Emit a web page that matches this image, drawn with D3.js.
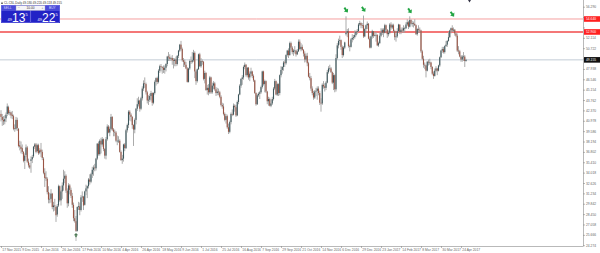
<!DOCTYPE html>
<meta charset="utf-8">
<style>
body { margin: 0; background: #fff; }
svg { display: block; font-family: "Liberation Sans", Arial, sans-serif; }
.axis text { fill: #666; font-size: 3.3px; }
.axis path, .axis line { stroke: #8a8a8a; stroke-width: 0.6px; }
</style>
<body>
<script src="https://cdn.jsdelivr.net/npm/d3@7/dist/d3.min.js"></script>
<script>
var width = 600, height = 253;
var plotRight = 583, plotBottom = 246;

var symbolTitle = "CL.CSL,Daily  49.180 49.220 49.118 49.155";
var sellQuote = ["49", "13", "5"], buyQuote = ["49", "22", "5"], lotSize = "10.00";

var dateLabels = ["17 Nov 2015", "9 Dec 2015", "4 Jan 2016", "26 Jan 2016", "17 Feb 2016",
  "10 Mar 2016", "4 Apr 2016", "26 Apr 2016", "18 May 2016", "9 Jun 2016", "1 Jul 2016",
  "25 Jul 2016", "16 Aug 2016", "7 Sep 2016", "29 Sep 2016", "21 Oct 2016", "14 Nov 2016",
  "6 Dec 2016", "29 Dec 2016", "23 Jan 2017", "14 Feb 2017", "8 Mar 2017", "30 Mar 2017",
  "24 Apr 2017"];

var priceTicks = [56.290, 54.898, 53.506, 52.114, 50.722, 49.330, 47.938, 46.546, 45.154,
  43.762, 42.370, 40.978, 39.586, 38.194, 36.802, 35.410, 34.018, 32.626, 31.234, 29.842,
  28.450, 27.058, 25.666, 24.274];

var levels = [54.64, 52.90];
var lastPrice = 49.155;
// [bar, price] of the arrow objects
var topMarkers = [[276, 55.85], [290, 55.95], [327, 55.75], [361, 55.3]];
var lowMarker = [60, 25.6];

// daily candles [open, high, low, close], 16 bars per line
var candles = [
[41.9,42.4,40.9,41.5],[41.5,41.9,40.3,41.1],[41.1,41.6,40.4,40.9],[40.9,41.7,40.5,41.2],[41.3,42.1,40.8,41.8],[41.9,43.3,41.6,42.9],[42.8,43.0,41.8,42.0],[42.0,42.4,41.7,42.1],[42.1,42.2,41.3,41.7],[41.8,42.3,41.2,41.6],[41.6,41.8,39.7,39.9],[40.0,40.5,39.5,39.9],[39.9,41.5,39.7,41.1],[41.1,41.4,39.6,40.0],[39.9,40.0,37.4,37.6],[37.7,38.3,37.0,37.5],
[37.5,38.2,36.6,37.2],[37.3,37.8,36.5,36.8],[36.8,36.9,35.4,35.6],[35.6,36.6,34.5,36.3],[36.4,37.8,36.1,37.4],[37.4,37.6,35.3,35.5],[35.5,35.9,34.7,35.0],[35.0,35.3,34.5,34.7],[35.6,36.2,34.0,35.8],[35.8,36.4,35.3,36.1],[36.2,37.6,36.0,37.5],[37.5,38.0,37.2,37.8],[37.8,38.0,36.6,36.8],[36.9,37.9,36.7,37.7],[37.7,37.9,36.4,36.6],[36.7,37.3,36.5,37.0],
[37.1,38.0,36.1,36.8],[36.8,37.1,35.7,36.0],[35.9,36.1,33.8,34.0],[34.0,34.6,32.1,33.3],[33.4,34.2,32.9,33.2],[33.2,33.4,31.1,31.4],[31.4,32.2,29.9,30.4],[30.5,31.3,29.9,30.5],[30.5,31.8,30.0,31.2],[31.2,31.3,29.1,29.4],[29.4,30.1,28.8,29.6],[29.6,30.5,28.9,29.5],[29.4,29.6,27.4,28.3],[28.4,29.8,28.1,29.5],[29.6,32.4,29.4,32.2],[32.2,32.3,30.1,30.3],
[30.3,31.7,29.6,31.5],[31.5,32.7,30.5,32.3],[32.3,34.4,31.6,33.2],[33.2,34.2,32.6,33.6],[33.6,33.8,31.3,31.6],[31.6,31.9,29.3,29.9],[29.9,32.6,29.5,32.3],[32.3,32.5,31.1,31.7],[31.7,32.0,30.6,30.9],[30.9,31.3,29.3,29.7],[29.7,30.0,27.5,27.9],[27.9,29.0,27.3,27.5],[27.5,28.2,26.05,26.2],[26.2,29.5,26.1,29.4],[29.4,30.1,29.0,29.5],[29.5,30.0,28.3,29.0],
[29.0,31.0,28.8,30.7],[30.7,31.5,30.1,30.8],[30.8,30.9,29.0,29.6],[29.7,31.6,29.6,31.5],[31.5,32.4,31.0,31.9],[31.9,32.3,30.6,32.2],[32.2,33.3,31.9,33.1],[33.1,33.8,32.4,32.8],[32.8,34.0,32.6,33.8],[33.8,34.8,33.3,34.4],[34.4,35.0,33.6,34.7],[34.7,35.2,34.2,34.6],[34.6,36.0,34.3,35.9],[35.9,38.0,35.7,37.9],[37.9,38.2,36.3,36.5],[36.5,38.5,36.3,38.3],
[38.3,38.7,36.6,37.8],[37.8,38.8,37.5,38.5],[38.5,38.6,36.9,37.2],[37.2,37.3,35.9,36.3],[36.3,38.8,35.8,38.5],[38.5,40.5,38.3,40.2],[40.2,40.4,39.3,39.4],[39.4,40.2,38.9,39.9],[39.9,41.9,39.7,41.5],[41.5,41.6,39.6,39.8],[39.8,40.0,38.9,39.5],[39.5,39.8,38.9,39.4],[39.4,39.6,38.1,38.3],[38.3,39.0,37.7,38.3],[38.3,38.9,38.0,38.3],[38.3,38.5,36.7,36.8],
[36.8,37.0,35.6,35.7],[35.7,36.4,35.2,35.9],[35.9,37.9,35.5,37.8],[37.8,38.0,36.9,37.3],[37.3,39.9,37.2,39.7],[39.7,40.6,39.4,40.4],[40.4,42.4,40.0,42.2],[42.2,42.4,41.0,41.8],[41.8,42.0,40.9,41.5],[41.5,41.6,39.9,40.4],[40.4,40.5,37.6,39.8],[39.8,41.3,39.3,41.1],[41.1,42.7,40.5,42.6],[42.6,44.0,42.3,43.2],[43.2,44.2,42.9,43.7],[43.7,43.8,42.2,42.6],
[42.6,44.2,42.4,44.0],[44.0,45.6,43.7,45.3],[45.3,46.4,45.0,46.0],[46.0,46.8,45.4,45.9],[45.9,46.1,44.5,44.8],[44.8,45.0,43.3,43.7],[43.7,44.4,43.1,43.8],[43.8,44.6,43.5,44.3],[44.3,45.0,43.7,44.7],[44.7,44.8,43.0,43.4],[43.4,44.8,43.2,44.7],[44.7,46.4,44.5,46.2],[46.2,46.8,45.7,46.7],[46.7,46.9,45.9,46.2],[46.2,47.9,46.0,47.7],[47.7,48.5,47.4,48.3],
[48.3,48.6,47.6,48.2],[48.2,48.3,47.3,48.1],[48.1,48.4,47.4,47.8],[47.8,48.4,47.3,48.1],[48.1,48.7,47.6,48.6],[48.6,49.7,48.3,49.6],[49.6,50.2,49.0,49.5],[49.5,49.9,49.0,49.3],[49.3,49.6,49.0,49.4],[49.4,49.8,48.5,49.1],[49.1,49.4,48.0,49.0],[49.0,49.4,48.3,49.2],[49.2,49.6,48.3,48.6],[48.6,49.8,48.4,49.7],[49.7,50.5,49.4,50.4],[50.4,51.3,50.2,51.2],
[51.2,51.7,50.4,50.6],[50.6,50.8,48.9,49.1],[49.1,49.4,48.2,48.9],[48.9,49.2,48.2,48.5],[48.5,48.9,47.9,48.0],[48.0,48.2,46.1,46.2],[46.2,48.1,46.1,48.0],[48.0,49.2,47.8,49.0],[49.0,49.6,48.6,48.9],[48.9,50.2,48.7,49.1],[49.1,50.5,48.9,50.1],[50.1,50.3,46.7,47.6],[47.6,47.8,45.8,46.3],[46.3,48.0,46.1,47.9],[47.9,50.0,47.8,49.9],[49.9,50.1,48.2,48.3],
[48.3,49.4,48.1,49.0],[49.0,49.2,48.5,48.9],[48.9,49.0,46.4,46.6],[46.6,47.7,46.0,47.4],[47.4,47.5,45.0,45.1],[45.1,45.8,44.5,45.4],[45.4,45.9,44.4,44.8],[44.8,47.0,44.6,46.8],[46.8,46.9,44.6,44.8],[44.8,46.1,44.6,45.7],[45.7,46.3,45.2,46.0],[46.0,46.2,45.0,45.2],[45.2,45.5,44.3,44.7],[44.7,45.4,44.4,44.9],[44.9,45.3,44.4,44.8],[44.8,45.0,44.0,44.2],
[44.2,44.4,42.9,43.1],[43.1,43.4,42.6,42.9],[42.9,43.3,41.7,41.9],[41.9,42.1,40.9,41.1],[41.1,41.9,40.6,41.6],[41.6,41.8,39.9,40.1],[40.1,40.6,39.2,39.5],[39.5,41.0,39.3,40.8],[40.8,42.1,40.5,41.9],[41.9,42.5,41.6,41.8],[41.8,43.3,41.7,43.0],[43.0,43.2,42.2,42.8],[42.8,43.1,41.5,41.7],[41.7,43.7,41.6,43.5],[43.5,44.6,43.2,44.5],[44.5,45.9,44.4,45.7],
[45.7,46.7,45.4,46.6],[46.6,47.1,45.8,46.8],[46.8,48.4,46.5,48.2],[48.2,48.8,47.9,48.5],[48.5,48.6,46.9,47.1],[47.1,48.2,46.8,48.1],[48.1,48.2,46.5,46.8],[46.8,47.6,46.3,47.3],[47.3,48.1,46.9,47.6],[47.6,47.7,46.7,47.0],[47.0,47.2,46.2,46.4],[46.4,46.5,44.6,44.7],[44.7,44.8,43.0,43.2],[43.2,44.6,43.1,44.4],[44.4,44.8,44.2,44.6],[44.6,45.0,43.9,44.8],
[44.8,45.7,44.6,45.5],[45.5,47.7,45.3,47.6],[47.6,47.7,45.7,45.9],[45.9,46.5,44.8,46.3],[46.3,46.4,44.7,44.9],[44.9,45.0,43.2,43.6],[43.6,44.2,43.0,43.9],[43.9,44.1,42.9,43.0],[43.0,43.8,42.8,43.3],[43.3,44.2,43.1,43.9],[43.9,45.5,43.7,45.3],[45.3,46.6,45.1,46.3],[46.3,46.4,44.4,44.5],[44.5,46.1,44.3,45.9],[45.9,46.0,44.3,44.7],[44.7,47.2,44.4,47.1],
[47.1,48.3,46.8,47.8],[47.8,48.3,47.3,48.2],[48.2,49.0,47.7,48.8],[48.8,49.1,48.2,48.7],[48.7,49.9,48.5,49.8],[49.8,50.5,49.6,50.4],[50.4,50.7,49.4,49.8],[49.8,51.6,49.7,51.4],[51.4,51.6,50.5,50.8],[50.8,51.0,49.9,50.2],[50.2,50.6,49.7,50.4],[50.4,51.0,50.0,50.4],[50.4,50.5,49.6,49.9],[49.9,50.6,49.8,50.3],[50.3,51.9,50.2,51.6],[51.6,51.9,50.5,50.6],
[50.6,51.4,50.3,50.9],[50.9,51.2,50.4,50.5],[50.5,50.6,49.6,50.0],[50.0,50.3,48.8,49.2],[49.2,50.0,48.9,49.7],[49.7,50.1,48.3,48.7],[48.7,48.9,46.8,46.9],[46.9,47.4,46.4,46.7],[46.7,47.0,45.0,45.3],[45.3,45.6,44.4,44.7],[44.7,45.0,43.8,44.1],[44.1,45.1,43.9,44.9],[44.9,45.4,44.3,45.0],[45.0,45.6,43.8,45.3],[45.3,45.6,44.4,44.7],[44.7,45.0,43.1,43.4],
[43.4,44.0,42.2,43.3],[43.3,46.0,43.1,45.8],[45.8,46.3,45.3,45.6],[45.6,46.0,44.9,45.4],[45.4,46.3,45.1,46.1],[46.1,47.8,46.0,47.5],[47.5,48.3,47.3,48.0],[48.0,48.5,47.7,48.0],[48.0,48.2,47.4,47.5],[47.5,47.6,45.9,46.1],[46.1,47.4,45.1,47.1],[47.1,47.2,44.8,45.2],[45.2,49.9,44.9,49.4],[49.4,51.4,49.2,51.1],[51.1,52.0,50.7,51.7],[51.7,52.4,51.2,51.8],
[51.8,51.9,50.5,50.9],[50.9,51.1,49.4,49.8],[49.8,51.0,49.6,50.8],[50.8,51.6,50.6,51.5],[52.6,55.0,52.4,52.8],[52.8,53.3,52.2,53.0],[53.0,53.4,50.8,51.0],[51.0,51.2,50.3,50.9],[50.9,52.1,50.8,51.9],[51.9,52.6,51.5,52.1],[52.1,52.5,51.8,52.2],[52.2,53.1,52.0,52.5],[52.5,53.1,52.3,52.9],[52.9,53.3,52.6,53.0],[53.0,54.1,52.9,53.9],[53.9,54.4,53.7,54.1],
[54.1,54.2,53.4,53.8],[53.8,54.1,53.4,53.7],[53.8,55.1,52.1,52.3],[52.3,53.4,52.2,53.3],[53.3,53.9,52.8,53.8],[53.8,54.3,53.3,54.0],[54.0,54.1,51.9,52.0],[52.0,52.3,50.7,50.8],[50.8,52.4,50.7,52.3],[52.3,53.2,52.0,53.0],[53.0,53.0,52.1,52.4],[52.4,52.9,52.3,52.5],[52.5,52.9,51.6,52.5],[52.5,52.6,51.0,51.1],[51.1,51.6,50.9,51.4],[51.4,52.8,51.3,52.4],
[52.4,53.4,52.2,52.8],[52.8,53.4,52.5,53.2],[53.2,53.4,52.2,52.8],[52.8,54.0,52.7,53.8],[53.8,53.9,52.9,53.2],[53.2,53.3,52.1,52.6],[52.6,53.1,52.3,52.8],[52.8,54.1,52.6,53.9],[53.9,54.2,53.2,53.5],[53.5,54.0,53.3,53.8],[53.8,54.0,52.8,53.0],[53.0,53.2,51.8,52.2],[52.2,52.7,51.6,52.3],[52.3,53.4,52.1,53.0],[53.0,54.0,52.9,53.9],[53.9,53.9,52.6,52.9],
[52.9,53.5,52.6,53.2],[53.2,53.5,52.8,53.1],[53.1,53.8,52.8,53.4],[53.4,53.6,52.8,53.4],[53.4,54.2,53.3,53.9],[53.9,54.6,53.7,54.2],[54.2,54.4,53.3,53.6],[53.6,55.0,53.5,54.5],[54.5,54.6,53.8,54.0],[54.0,54.4,53.6,54.1],[54.1,54.3,53.5,54.0],[54.0,54.6,53.7,53.8],[53.8,53.9,52.5,52.6],[52.6,53.4,52.4,53.3],[53.3,53.8,52.8,53.2],[53.2,53.5,52.8,53.1],
[53.1,53.2,50.1,50.3],[50.3,50.5,49.1,49.3],[49.3,49.7,48.1,48.5],[48.5,48.8,47.9,48.4],[48.4,48.5,46.8,47.7],[47.7,49.0,47.6,48.9],[48.9,49.2,48.4,48.8],[48.8,49.3,48.5,48.8],[48.8,48.9,47.9,48.2],[48.2,48.3,47.1,47.3],[47.3,47.6,46.6,47.0],[47.0,48.0,46.9,47.7],[47.7,48.3,47.5,48.0],[48.0,48.1,47.1,47.7],[47.7,48.5,47.6,48.4],[48.4,49.6,48.2,49.5],
[49.5,50.5,49.4,50.4],[50.4,50.9,50.1,50.6],[50.6,50.9,50.0,50.2],[50.2,51.1,50.0,51.0],[51.0,51.7,50.9,51.2],[51.2,51.8,50.9,51.7],[51.7,52.9,51.6,52.2],[52.2,53.2,52.1,53.1],[53.1,53.5,52.7,53.4],[53.4,53.8,52.9,53.1],[53.1,53.5,52.9,53.2],[53.2,53.3,52.4,52.7],[52.7,52.8,52.2,52.4],[52.4,52.7,50.2,50.4],[50.4,51.0,49.9,50.3],[50.3,50.5,49.5,49.6],
[49.6,49.8,48.9,49.2],[49.2,49.8,48.9,49.6],[49.6,50.2,49.0,49.6],[49.6,49.8,48.2,49.0],[49.0,49.3,48.9,49.155]
];

var svg = d3.select("body").append("svg")
    .attr("width", width)
    .attr("height", height);

var x = d3.scaleLinear().domain([0, 465.6]).range([1, plotRight]);
var y = d3.scaleLinear().domain([24.17, 57.19]).range([plotBottom, 0]);

// horizontal lines
svg.append("line")
    .attr("x1", 0).attr("x2", plotRight)
    .attr("y1", y(lastPrice)).attr("y2", y(lastPrice))
    .attr("stroke", "#c3ccd6").attr("stroke-width", 1);

svg.append("line")
    .attr("x1", 0).attr("x2", plotRight)
    .attr("y1", y(levels[0])).attr("y2", y(levels[0]))
    .attr("stroke", "#f5a0a0").attr("stroke-width", 1);
svg.append("line")
    .attr("x1", 0).attr("x2", plotRight)
    .attr("y1", y(levels[1])).attr("y2", y(levels[1]))
    .attr("stroke", "#f04a4a").attr("stroke-width", 1.5);

// candles
var bars = svg.append("g").selectAll("g")
    .data(candles)
    .enter().append("g");

bars.append("line")
    .attr("x1", function(d, i) { return x(i); })
    .attr("x2", function(d, i) { return x(i); })
    .attr("y1", function(d) { return y(d[1]); })
    .attr("y2", function(d) { return y(d[2]); })
    .attr("stroke", "#a2a2a2")
    .attr("stroke-width", 0.9);

bars.append("rect")
    .attr("x", function(d, i) { return x(i) - 0.55; })
    .attr("width", 1.1)
    .attr("y", function(d) { return y(Math.max(d[0], d[3])); })
    .attr("height", function(d) { return Math.max(0.6, Math.abs(y(d[0]) - y(d[3]))); })
    .attr("fill", function(d) { return d[3] >= d[0] ? "#3c575c" : "#9a5444"; });

// arrow objects
function arrow(g, cx, cy) {
  g.append("path")
    .attr("transform", "translate(" + cx + "," + cy + ") rotate(-35)")
    .attr("d", "M0,3.2 L-2.6,0 L-1,0 L-1,-2.8 L1,-2.8 L1,0 L2.6,0 Z")
    .attr("fill", "#23a544");
}
topMarkers.forEach(function(m) { arrow(svg, x(m[0]), y(m[1])); });
svg.append("path")
    .attr("transform", "translate(" + x(lowMarker[0]) + "," + y(lowMarker[1]) + ")")
    .attr("d", "M0,-2.4 L2.2,0 L0.8,0 L0.8,2 L-0.8,2 L-0.8,0 L-2.2,0 Z")
    .attr("fill", "#4d7a55");
svg.append("line")
    .attr("x1", x(lowMarker[0])).attr("x2", x(lowMarker[0]))
    .attr("y1", y(lowMarker[1]) + 2).attr("y2", plotBottom - 5)
    .attr("stroke", "#777").attr("stroke-width", 0.5);
svg.append("path")
    .attr("d", "M468,0 L471,0 L469.5,2.5 Z")
    .attr("fill", "#334");

// axes
var yAxis = d3.axisRight(y)
    .tickValues(priceTicks)
    .tickSize(2)
    .tickSizeOuter(0)
    .tickPadding(1)
    .tickFormat(d3.format(".3f"));
var yg = svg.append("g").attr("class", "axis")
    .attr("transform", "translate(" + plotRight + ",0)")
    .call(yAxis);
yg.select(".domain").attr("d", "M0.5,0V" + plotBottom);
var boxes = levels.concat([lastPrice]);
yg.selectAll(".tick text").style("display", function(d) {
  return boxes.some(function(b) { return Math.abs(y(b) - y(d)) < 5; }) ? "none" : null;
});

var xAxis = d3.axisBottom(x)
    .tickValues(dateLabels.map(function(d, i) { return i * 16; }))
    .tickSize(2)
    .tickSizeOuter(0)
    .tickFormat(function(d, i) { return dateLabels[i]; });
var xg = svg.append("g").attr("class", "axis")
    .attr("transform", "translate(0," + plotBottom + ")")
    .call(xAxis);
xg.select(".domain").attr("d", "M0,0.5H" + (plotRight + 0.5));
xg.selectAll(".tick text")
    .attr("text-anchor", "start")
    .attr("x", 0.8)
    .attr("y", 2.2);

// price boxes on the right scale
var boxColors = ["#ff2020", "#ff2020", "#111"];
boxes.forEach(function(b, i) {
  svg.append("rect")
    .attr("x", plotRight + 1).attr("y", y(b) - 2.8)
    .attr("width", 16).attr("height", 5.6)
    .attr("fill", boxColors[i]);
  svg.append("text")
    .attr("x", plotRight + 3).attr("y", y(b) + 1.2)
    .attr("fill", "#fff").style("font-size", "3.3px")
    .text(d3.format(".3f")(b));
});

// title
svg.append("path").attr("d", "M1,4 L3,4 L2,1.6 Z").attr("fill", "#555");
svg.append("text")
    .attr("x", 4).attr("y", 4)
    .attr("fill", "#333").style("font-size", "3px")
    .text(symbolTitle);

// one click trading panel
var panel = svg.append("g").attr("transform", "translate(1,5)");
panel.append("rect").attr("width", 59).attr("height", 18).attr("fill", "#2222c6");
panel.append("rect").attr("width", 59).attr("height", 6).attr("fill", "#4a4ad8");
panel.append("rect").attr("x", 0.3).attr("y", 0.3).attr("width", 28.9).attr("height", 17.4)
    .attr("fill", "none").attr("stroke", "#7c7ce6").attr("stroke-width", 0.5);
panel.append("rect").attr("x", 29.8).attr("y", 0.3).attr("width", 28.9).attr("height", 17.4)
    .attr("fill", "none").attr("stroke", "#7c7ce6").attr("stroke-width", 0.5);
panel.append("rect").attr("x", 15).attr("y", 0.6).attr("width", 29).attr("height", 4.8)
    .attr("fill", "#f4f4f8").attr("stroke", "#9999bb").attr("stroke-width", 0.4);
panel.append("text").attr("x", 29.5).attr("y", 4.2).attr("text-anchor", "middle")
    .attr("fill", "#333").style("font-size", "3.2px").text(lotSize);
panel.append("text").attr("x", 17).attr("y", 4.2).attr("fill", "#777").style("font-size", "3.2px").text("\u2212");
panel.append("text").attr("x", 40.5).attr("y", 4.2).attr("fill", "#777").style("font-size", "3.2px").text("+");
panel.append("text").attr("x", 2.5).attr("y", 4.2).attr("fill", "#d8dcff").style("font-size", "3.3px").text("SELL");
panel.append("text").attr("x", 48).attr("y", 4.2).attr("fill", "#d8dcff").style("font-size", "3.3px").text("BUY");

[[sellQuote, 6.5], [buyQuote, 36.5]].forEach(function(q) {
  var t = q[0], x0 = q[1];
  panel.append("text").attr("x", x0).attr("y", 16).attr("fill", "#fff")
      .style("font-size", "4px").text(t[0]);
  panel.append("text").attr("x", x0 + 4.6).attr("y", 17.4).attr("fill", "#fff")
      .style("font-size", "12px").text(t[1]);
  panel.append("text").attr("x", x0 + 18).attr("y", 10.5).attr("fill", "#fff")
      .style("font-size", "4px").text(t[2]);
});
</script>
</body>
